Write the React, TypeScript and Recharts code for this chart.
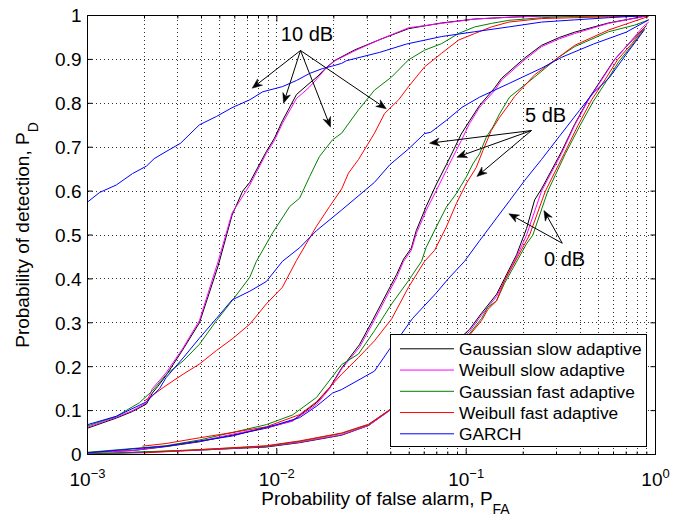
import React from 'react';
import { LineChart, Line, XAxis, YAxis, CartesianGrid, ReferenceLine, ReferenceDot, Legend } from 'recharts';

type Pt = [number, number];

// ---------- 10 dB ----------
const gaussSlow10: Pt[] = [[0.001,0.06],[0.00142,0.083],[0.00173,0.098],[0.00205,0.115],[0.0022,0.14],[0.00235,0.155],[0.0026,0.18],[0.0032,0.24],[0.0039,0.3],[0.0049,0.43],[0.0058,0.545],[0.0066,0.6],[0.0072,0.62],[0.0088,0.69],[0.0097,0.72],[0.0107,0.76],[0.0127,0.82],[0.0148,0.845],[0.0163,0.86],[0.0181,0.88],[0.0203,0.898],[0.0259,0.922],[0.0349,0.945],[0.0496,0.97],[0.074,0.983],[0.111,0.992],[0.168,0.996],[0.25,0.999],[0.92,1]];
const weibSlow10: Pt[] = [[0.001,0.062],[0.00142,0.085],[0.00173,0.1],[0.00205,0.118],[0.0022,0.15],[0.0026,0.186],[0.0032,0.243],[0.0039,0.305],[0.0049,0.44],[0.0058,0.55],[0.0072,0.614],[0.0088,0.686],[0.0097,0.715],[0.0107,0.754],[0.0127,0.811],[0.0148,0.836],[0.0163,0.856],[0.0181,0.879],[0.0203,0.897],[0.0259,0.92],[0.0349,0.945],[0.0496,0.972],[0.074,0.982],[0.111,0.992],[0.168,0.996],[0.25,0.999],[0.92,1]];
const gaussFast10: Pt[] = [[0.001,0.065],[0.00142,0.087],[0.00188,0.118],[0.0022,0.145],[0.0026,0.182],[0.0032,0.213],[0.0039,0.251],[0.0048,0.305],[0.0058,0.35],[0.0072,0.404],[0.0078,0.44],[0.0095,0.505],[0.0117,0.565],[0.0132,0.584],[0.0149,0.633],[0.0168,0.679],[0.0197,0.717],[0.022,0.732],[0.027,0.785],[0.0328,0.83],[0.0404,0.86],[0.0496,0.899],[0.0603,0.921],[0.0742,0.936],[0.0912,0.959],[0.111,0.974],[0.136,0.982],[0.168,0.989],[0.25,0.995],[0.374,0.998],[0.92,1]];
const weibFast10: Pt[] = [[0.002,0.122],[0.0026,0.157],[0.0032,0.183],[0.0039,0.206],[0.0048,0.237],[0.0058,0.263],[0.0072,0.297],[0.0088,0.343],[0.0107,0.381],[0.0127,0.442],[0.0162,0.52],[0.019,0.565],[0.022,0.605],[0.0239,0.641],[0.027,0.672],[0.0328,0.732],[0.0371,0.777],[0.044,0.808],[0.0496,0.838],[0.0603,0.883],[0.0742,0.914],[0.0912,0.944],[0.111,0.959],[0.136,0.974],[0.168,0.985],[0.25,0.993],[0.565,0.997],[0.92,1]];
const garch10: Pt[] = [[0.001,0.575],[0.00116,0.597],[0.00142,0.614],[0.00173,0.64],[0.00205,0.657],[0.00225,0.674],[0.0026,0.69],[0.0031,0.709],[0.0039,0.751],[0.0048,0.77],[0.0058,0.79],[0.0072,0.808],[0.0084,0.826],[0.0107,0.838],[0.0127,0.852],[0.0149,0.868],[0.0174,0.879],[0.0197,0.885],[0.022,0.891],[0.0233,0.897],[0.0349,0.916],[0.0484,0.935],[0.074,0.952],[0.111,0.963],[0.168,0.974],[0.25,0.985],[0.374,0.99],[0.565,0.995],[0.92,1]];

// ---------- 5 dB ----------
const gaussSlow5: Pt[] = [[0.001,0.004],[0.00173,0.009],[0.0026,0.018],[0.0039,0.029],[0.0058,0.044],[0.0088,0.06],[0.0121,0.077],[0.0162,0.118],[0.019,0.152],[0.022,0.197],[0.0273,0.25],[0.032,0.305],[0.0429,0.41],[0.0467,0.445],[0.0513,0.47],[0.0545,0.51],[0.0615,0.565],[0.0695,0.615],[0.0785,0.66],[0.085,0.69],[0.0942,0.73],[0.1042,0.76],[0.1177,0.795],[0.1413,0.835],[0.1538,0.857],[0.2035,0.903],[0.25,0.932],[0.311,0.95],[0.374,0.962],[0.565,0.983],[0.92,1]];
const weibSlow5: Pt[] = [[0.001,0.004],[0.00173,0.009],[0.0026,0.019],[0.0039,0.03],[0.0058,0.046],[0.0088,0.061],[0.0121,0.076],[0.0162,0.114],[0.019,0.15],[0.022,0.195],[0.0273,0.244],[0.032,0.298],[0.0429,0.403],[0.0467,0.44],[0.0513,0.465],[0.0545,0.503],[0.0615,0.556],[0.0695,0.601],[0.0785,0.647],[0.085,0.677],[0.0942,0.715],[0.1042,0.754],[0.1177,0.791],[0.1413,0.829],[0.1538,0.853],[0.2035,0.899],[0.25,0.929],[0.311,0.947],[0.374,0.959],[0.565,0.982],[0.92,1]];
const gaussFast5: Pt[] = [[0.001,0.005],[0.0026,0.02],[0.0039,0.033],[0.0058,0.05],[0.0088,0.068],[0.0121,0.09],[0.0162,0.13],[0.022,0.205],[0.027,0.229],[0.0328,0.282],[0.0404,0.343],[0.0496,0.396],[0.0581,0.44],[0.0615,0.472],[0.0695,0.518],[0.0785,0.563],[0.0886,0.594],[0.1001,0.632],[0.1085,0.662],[0.1177,0.685],[0.1277,0.723],[0.1384,0.746],[0.1501,0.776],[0.1695,0.814],[0.23,0.86],[0.308,0.905],[0.374,0.929],[0.565,0.963],[0.775,0.978],[0.92,0.99]];
const weibFast5: Pt[] = [[0.00195,0.019],[0.0026,0.025],[0.0039,0.038],[0.0058,0.05],[0.0088,0.063],[0.0132,0.091],[0.0162,0.12],[0.022,0.183],[0.027,0.221],[0.0328,0.259],[0.0404,0.309],[0.0496,0.381],[0.0603,0.44],[0.0681,0.465],[0.0785,0.518],[0.0886,0.571],[0.1001,0.617],[0.1131,0.654],[0.1225,0.692],[0.1357,0.738],[0.1501,0.768],[0.1695,0.799],[0.18,0.815],[0.23,0.865],[0.308,0.905],[0.374,0.932],[0.565,0.967],[0.92,0.998]];
const garch5: Pt[] = [[0.001,0.068],[0.00142,0.087],[0.00205,0.12],[0.0024,0.15],[0.0026,0.175],[0.0032,0.22],[0.0039,0.265],[0.0048,0.31],[0.0058,0.352],[0.0072,0.372],[0.0088,0.394],[0.0107,0.44],[0.0132,0.471],[0.0162,0.51],[0.022,0.557],[0.0328,0.62],[0.0395,0.66],[0.0496,0.696],[0.0603,0.731],[0.065,0.734],[0.0785,0.761],[0.0952,0.791],[0.1177,0.814],[0.168,0.845],[0.25,0.88],[0.32,0.905],[0.47,0.935],[0.7,0.962],[0.92,0.99]];

// ---------- 0 dB ----------
const gaussSlow0: Pt[] = [[0.001,0.001],[0.0039,0.01],[0.0088,0.017],[0.0132,0.027],[0.022,0.044],[0.0305,0.066],[0.0389,0.099],[0.0496,0.137],[0.0603,0.182],[0.0742,0.23],[0.0912,0.262],[0.1042,0.285],[0.1206,0.322],[0.1447,0.365],[0.1846,0.455],[0.2085,0.515],[0.23,0.58],[0.25,0.605],[0.319,0.69],[0.374,0.752],[0.443,0.81],[0.519,0.855],[0.608,0.9],[0.721,0.935],[0.897,0.977]];
const weibSlow0: Pt[] = [[0.001,0.001],[0.002,0.004],[0.0039,0.01],[0.0088,0.018],[0.0132,0.028],[0.022,0.045],[0.0305,0.066],[0.0389,0.098],[0.0496,0.135],[0.0603,0.18],[0.0742,0.228],[0.0912,0.258],[0.1042,0.28],[0.1206,0.318],[0.1447,0.36],[0.1846,0.45],[0.2085,0.5],[0.25,0.6],[0.319,0.686],[0.374,0.75],[0.443,0.808],[0.519,0.853],[0.608,0.899],[0.721,0.936],[0.855,0.973],[0.92,0.985]];
const gaussFast0: Pt[] = [[0.001,0.001],[0.0039,0.011],[0.0088,0.019],[0.0132,0.03],[0.022,0.048],[0.0305,0.068],[0.0389,0.1],[0.0496,0.137],[0.0603,0.18],[0.0742,0.225],[0.0912,0.255],[0.1042,0.275],[0.1206,0.31],[0.13,0.335],[0.1447,0.35],[0.1595,0.39],[0.2085,0.48],[0.225,0.5],[0.27,0.6],[0.335,0.686],[0.4,0.75],[0.47,0.805],[0.55,0.85],[0.64,0.895],[0.76,0.935],[0.876,0.97]];
const weibFast0: Pt[] = [[0.002,0.004],[0.0039,0.011],[0.0088,0.02],[0.0132,0.031],[0.022,0.049],[0.0305,0.069],[0.0389,0.1],[0.0496,0.138],[0.0603,0.182],[0.0742,0.225],[0.0912,0.252],[0.1042,0.272],[0.1206,0.305],[0.13,0.33],[0.1447,0.35],[0.1595,0.396],[0.2163,0.5],[0.262,0.6],[0.33,0.686],[0.39,0.75],[0.46,0.808],[0.54,0.853],[0.63,0.899],[0.75,0.936],[0.876,0.973]];
const garch0: Pt[] = [[0.001,0.004],[0.0026,0.019],[0.0058,0.042],[0.00996,0.068],[0.0132,0.084],[0.0162,0.11],[0.0197,0.14],[0.022,0.148],[0.0328,0.19],[0.0394,0.24],[0.0456,0.275],[0.0521,0.31],[0.0689,0.366],[0.0807,0.401],[0.098,0.44],[0.1177,0.487],[0.1695,0.578],[0.2035,0.624],[0.25,0.672],[0.311,0.725],[0.397,0.784],[0.465,0.822],[0.572,0.859],[0.704,0.913],[0.876,0.968]];

// ---------- axes / labels ----------
const xTicks = [0.001,0.002,0.003,0.004,0.005,0.006,0.007,0.008,0.009,0.01,0.02,0.03,0.04,0.05,0.06,0.07,0.08,0.09,0.1,0.2,0.3,0.4,0.5,0.6,0.7,0.8,0.9,1];
const decadeTicks = [0.001, 0.01, 0.1, 1];
const decadeExponents = ['\u22123', '\u22122', '\u22121', '0'];
const yTicks = [0,0.1,0.2,0.3,0.4,0.5,0.6,0.7,0.8,0.9,1];
const yTickLabels = ['0','0.1','0.2','0.3','0.4','0.5','0.6','0.7','0.8','0.9','1'];

const seriesNames = ['Gaussian slow adaptive','Weibull slow adaptive','Gaussian fast adaptive','Weibull fast adaptive','GARCH'];
const seriesColors = ['#000000','#ff00ff','#008000','#ff0000','#0000ff'];
const seriesBySnr: Pt[][][] = [
  [gaussSlow10, weibSlow10, gaussFast10, weibFast10, garch10],
  [gaussSlow5, weibSlow5, gaussFast5, weibFast5, garch5],
  [gaussSlow0, weibSlow0, gaussFast0, weibFast0, garch0],
];

// annotations (data coordinates)
const snrLabels = ['10 dB', '5 dB', '0 dB'];
const snrLabelPos: Pt[] = [[0.01443, 0.959], [0.2627, 0.7745], [0.331, 0.4465]];
const arrowOrigins: Pt[] = [[0.01334, 0.9203], [0.2213, 0.738], [0.3218, 0.4813]];
const arrowTips: Pt[][] = [
  [[0.00741, 0.8344], [0.01085, 0.8002], [0.01921, 0.7456], [0.03784, 0.7875]],
  [[0.06406, 0.7091], [0.08929, 0.6772], [0.1139, 0.6333]],
  [[0.1681, 0.5483], [0.2573, 0.5558]],
];

const FONT = '"Liberation Sans", Arial, Helvetica, sans-serif';

const toRows = (pts: Pt[]) => pts.map(([pfa, pd]) => ({ pfa, pd }));

const decadeIndex = (v: number) => decadeTicks.findIndex((d) => Math.abs(d - v) < d * 1e-6);

const BottomTick = (props: any) => {
  const { x, y, payload } = props;
  const i = decadeIndex(payload.value);
  const major = i >= 0;
  return (
    <g>
      <line x1={x} y1={y} x2={x} y2={y - (major ? 6 : 3)} stroke="#000" strokeWidth={1} />
      {major && (
        <text x={x} y={y + 31} textAnchor="middle" fontSize={19} fontFamily={FONT} fill="#000">
          10<tspan dy={-8} fontSize={13}>{decadeExponents[i]}</tspan>
        </text>
      )}
    </g>
  );
};

const TopTick = (props: any) => {
  const { x, y, payload } = props;
  const major = decadeIndex(payload.value) >= 0;
  return <line x1={x} y1={y} x2={x} y2={y + (major ? 6 : 3)} stroke="#000" strokeWidth={1} />;
};

const LeftTick = (props: any) => {
  const { x, y, payload, index } = props;
  return (
    <g>
      <line x1={x} y1={y} x2={x + 5} y2={y} stroke="#000" strokeWidth={1} />
      <text x={x - 6} y={y} dy="0.36em" textAnchor="end" fontSize={19} fontFamily={FONT} fill="#000">
        {yTickLabels[index] ?? String(payload.value)}
      </text>
    </g>
  );
};

const RightTick = (props: any) => {
  const { x, y } = props;
  return <line x1={x} y1={y} x2={x - 5} y2={y} stroke="#000" strokeWidth={1} />;
};

const XTitle = (props: any) => {
  const vb = props.viewBox || { x: 87.5, y: 454.5, width: 568, height: 67.5 };
  const cx = vb.x + vb.width / 2 + 14;
  return (
    <text x={cx} y={vb.y + 50.5} textAnchor="middle" fontSize={19} fontFamily={FONT} fill="#000">
      Probability of false alarm, P<tspan dy={9} fontSize={14}>FA</tspan>
    </text>
  );
};

const YTitle = (props: any) => {
  const vb = props.viewBox || { x: 0, y: 15.5, width: 87.5, height: 439 };
  const cy = vb.y + vb.height / 2;
  const bx = 29;
  return (
    <text x={bx} y={cy} transform={`rotate(-90, ${bx}, ${cy})`} textAnchor="middle" fontSize={19} fontFamily={FONT} fill="#000">
      Probability of detection, P<tspan dy={9} fontSize={14}>D</tspan>
    </text>
  );
};

const ArrowShape = (props: any) => {
  const { x1, y1, x2, y2 } = props;
  if ([x1, y1, x2, y2].some((v) => typeof v !== 'number' || isNaN(v))) return <g />;
  const dx = x2 - x1;
  const dy = y2 - y1;
  const len = Math.hypot(dx, dy) || 1;
  const ux = dx / len;
  const uy = dy / len;
  const px = -uy;
  const py = ux;
  const hl = 10;
  const hw = 4;
  const notch = 7;
  const bx = x2 - ux * hl;
  const by = y2 - uy * hl;
  const nx = x2 - ux * notch;
  const ny = y2 - uy * notch;
  const pts = `${x2},${y2} ${bx + px * hw},${by + py * hw} ${nx},${ny} ${bx - px * hw},${by - py * hw}`;
  return (
    <g>
      <line x1={x1} y1={y1} x2={nx} y2={ny} stroke="#000" strokeWidth={1} />
      <polygon points={pts} fill="#000" stroke="#000" strokeWidth={0.5} />
    </g>
  );
};

const LegendBox = () => (
  <div style={{ width: 257, height: 113, boxSizing: 'border-box', border: '1px solid #000', background: '#fff' }}>
    <svg width={255} height={111} style={{ display: 'block' }}>
      {seriesNames.map((n, i) => {
        const cy = 13.8 + i * 21.25;
        return (
          <g key={n}>
            <line x1={9} x2={63} y1={cy} y2={cy} stroke={seriesColors[i]} strokeWidth={1} />
            <text x={68} y={cy} dy="0.36em" fontSize={17.3} fontFamily={FONT} fill="#000">{n}</text>
          </g>
        );
      })}
    </svg>
  </div>
);

export default function App() {
  return (
    <div style={{ position: 'fixed', left: 0, top: 0, background: '#fff' }}>
      <LineChart width={684} height={522} margin={{ top: 0, right: 0, bottom: 0, left: 0 }} style={{ fontFamily: FONT }}>
        <CartesianGrid stroke="#333" strokeDasharray="1 3" strokeWidth={1} shapeRendering="crispEdges" />
        <XAxis
          dataKey="pfa"
          type="number"
          scale="log"
          domain={[0.001, 1]}
          allowDataOverflow
          ticks={xTicks}
          interval={0}
          tick={(p: any) => <BottomTick {...p} />}
          tickLine={false}
          tickSize={0}
          tickMargin={0}
          height={67.5}
          axisLine={{ stroke: '#000', strokeWidth: 1 }}
          label={<XTitle />}
        />
        <XAxis
          xAxisId="top"
          orientation="top"
          dataKey="pfa"
          type="number"
          scale="log"
          domain={[0.001, 1]}
          allowDataOverflow
          ticks={xTicks}
          interval={0}
          tick={(p: any) => <TopTick {...p} />}
          tickLine={false}
          tickSize={0}
          tickMargin={0}
          height={15.5}
          axisLine={{ stroke: '#000', strokeWidth: 1 }}
        />
        <YAxis
          type="number"
          domain={[0, 1]}
          allowDataOverflow
          ticks={yTicks}
          interval={0}
          tick={(p: any) => <LeftTick {...p} />}
          tickLine={false}
          tickSize={0}
          tickMargin={0}
          width={87.5}
          axisLine={{ stroke: '#000', strokeWidth: 1 }}
          label={<YTitle />}
        />
        <YAxis
          yAxisId="right"
          orientation="right"
          type="number"
          domain={[0, 1]}
          allowDataOverflow
          ticks={yTicks}
          interval={0}
          tick={(p: any) => <RightTick {...p} />}
          tickLine={false}
          tickSize={0}
          tickMargin={0}
          width={28.5}
          axisLine={{ stroke: '#000', strokeWidth: 1 }}
        />
        {seriesColors.map((color, s) =>
          seriesBySnr.map((group, g) => (
            <Line
              key={`s${s}-g${g}`}
              data={toRows(group[s])}
              dataKey="pd"
              type="linear"
              stroke={color}
              strokeWidth={1}
              dot={false}
              activeDot={false}
              isAnimationActive={false}
              legendType="none"
              name={seriesNames[s]}
            />
          ))
        )}
        {arrowTips.map((tips, g) =>
          tips.map((tip, k) => (
            <ReferenceLine
              key={`a${g}-${k}`}
              segment={[{ x: arrowOrigins[g][0], y: arrowOrigins[g][1] }, { x: tip[0], y: tip[1] }]}
              ifOverflow="visible"
              shape={(p: any) => <ArrowShape {...p} />}
            />
          ))
        )}
        {snrLabels.map((t, g) => (
          <ReferenceDot
            key={`l${g}`}
            x={snrLabelPos[g][0]}
            y={snrLabelPos[g][1]}
            r={0}
            ifOverflow="visible"
            shape={(p: any) => (
              <text x={p.cx} y={p.cy} dy="0.36em" textAnchor="middle" fontSize={20} fontFamily={FONT} fill="#000">{t}</text>
            )}
          />
        ))}
        <Legend
          layout="vertical"
          align="center"
          verticalAlign="middle"
          wrapperStyle={{ position: 'absolute', left: 390, top: 334, width: 257, height: 113, margin: 0, padding: 0 }}
          content={() => <LegendBox />}
        />
      </LineChart>
    </div>
  );
}
